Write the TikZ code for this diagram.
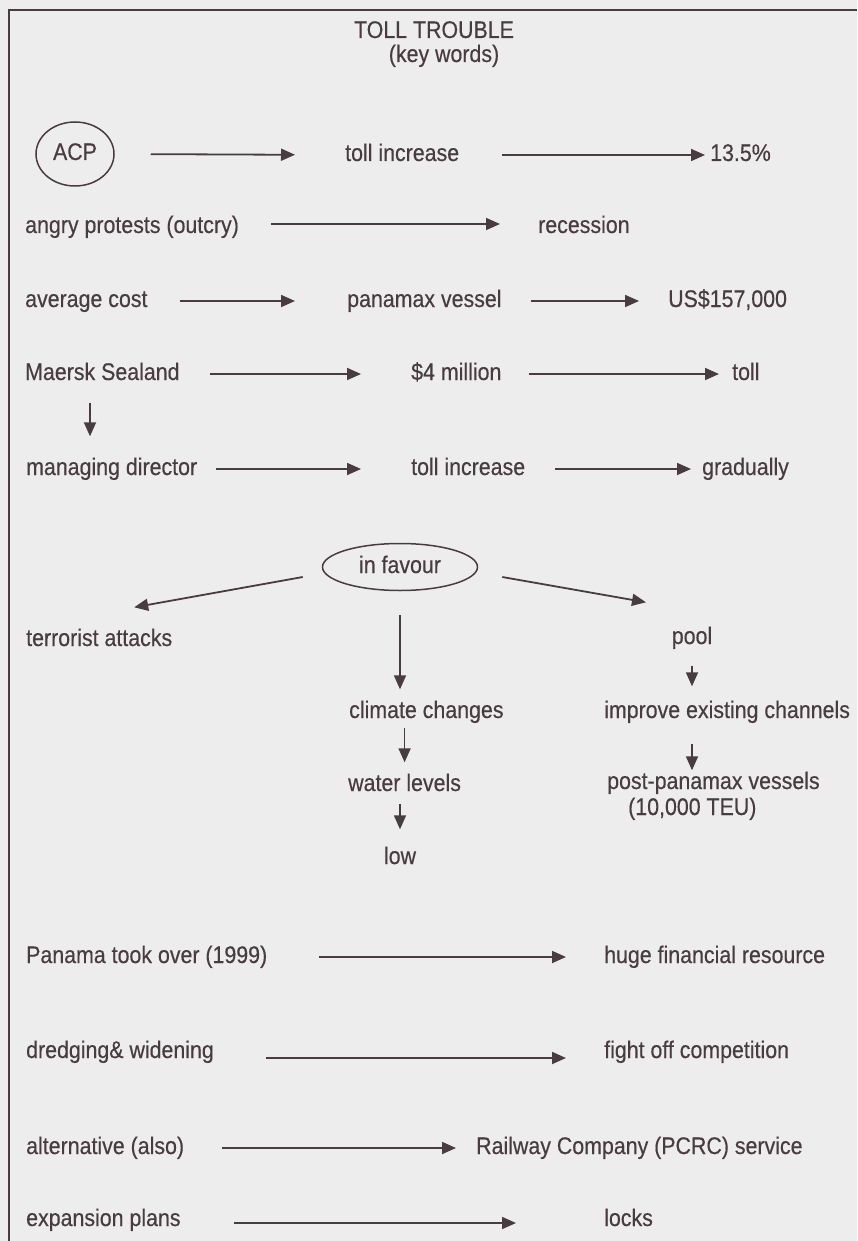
\documentclass[tikz,border=0pt]{standalone}
\usepackage{fontspec}
\setmainfont{Liberation Sans}[FakeStretch=0.89, FakeBold=0.4]
\usetikzlibrary{positioning,arrows.meta,shapes.geometric}
\definecolor{ink}{RGB}{72,60,64}
\definecolor{paper}{RGB}{238,237,237}
\tikzset{
  word/.style  = {text=ink, inner sep=0pt, text height=17.5pt, text depth=5.5pt,
                  font=\fontsize{24}{27}\selectfont},
  lword/.style = {word, anchor=west},
  ring/.style  = {word, draw=ink, ellipse, line width=1.5pt},
  link/.style  = {-{Triangle[length=14pt,width=12pt]}, draw=ink, line width=1.8pt},
  frame/.style = {draw=ink, line width=1.6pt}
}
\begin{document}
\begin{tikzpicture}[x=1pt, y=-1pt]
  \fill[paper] (0,0) rectangle (857,1241);
  \useasboundingbox (0,0) rectangle (857,1241);
  \draw[frame] (9,1241) -- (9,10) -- (857,10);

  % heading
  \node[word] (head) at (434,32) {TOLL TROUBLE};
  \node[word] (keys) at (444,56) {(key words)};

  % upper rows
  \node[ring, minimum width=78pt, minimum height=64pt] (acp) at (75,154) {ACP};
  \node[lword] (inc1)   at (345,155) {toll increase};
  \node[lword] (pct)    at (710,155) {13.5\%};
  \node[lword] (angry)  at (25,227)  {angry protests (outcry)};
  \node[lword] (rec)    at (538,227) {recession};
  \node[lword] (avg)    at (25,301)  {average cost};
  \node[lword] (pmx)    at (347,301) {panamax vessel};
  \node[lword] (usd)    at (668,301) {US\$157,000};
  \node[lword] (maersk) at (25,374)  {Maersk Sealand};
  \node[lword] (four)   at (411,374) {\$4 million};
  \node[lword] (tollw)  at (732,374) {toll};
  \node[lword] (md)     at (26,469)  {managing director};
  \node[lword] (inc2)   at (411,469) {toll increase};
  \node[lword] (grad)   at (702,469) {gradually};

  \draw[link, shorten <=36pt, shorten >=50pt] (acp.east) -- (inc1.west);
  \draw[link, shorten <=43pt, shorten >=5pt]  (inc1.east) -- (pct.west);
  \draw[link, shorten <=32pt, shorten >=38pt] ([yshift=3pt]angry.east) -- ([yshift=3pt]rec.west);
  \draw[link, shorten <=32pt, shorten >=52pt] (avg.east) -- (pmx.west);
  \draw[link, shorten <=29pt, shorten >=29pt] (pmx.east) -- (usd.west);
  \draw[link, shorten <=30pt, shorten >=50pt] (maersk.east) -- (four.west);
  \draw[link, shorten <=27pt, shorten >=13pt] (four.east) -- (tollw.west);
  \draw[link, shorten <=17pt, shorten >=21pt] ([xshift=65pt]maersk.south west) -- ([xshift=64pt]md.north west);
  \draw[link, shorten <=19pt, shorten >=50pt] (md.east) -- (inc2.west);
  \draw[link, shorten <=30pt, shorten >=11pt] (inc2.east) -- (grad.west);

  % in favour tree
  \node[ring, minimum width=155pt, minimum height=47pt] (fav) at (400,567) {in favour};
  \node[lword] (terr)  at (26,640)  {terrorist attacks};
  \node[word]  (pool)  at (692,638) {pool};
  \node[lword] (clim)  at (349,712) {climate changes};
  \node[lword] (impr)  at (604,712) {improve existing channels};
  \node[lword] (water) at (348,785) {water levels};
  \node[lword] (post)  at (607,783) {post-panamax vessels};
  \node[lword] (teu)   at (628,809) {(10,000 TEU)};
  \node[word]  (low)   at (400,858) {low};

  \draw[link] ([xshift=-19pt,yshift=-10pt]fav.west) -- ([xshift=35pt,yshift=21pt]terr.north);
  \draw[link] ([xshift=24pt,yshift=-10pt]fav.east) -- ([xshift=-46pt,yshift=24pt]pool.north);
  \draw[link, shorten <=24pt, shorten >=11pt] (fav.south) -- (fav.south |- clim.north);
  \draw[link, shorten <=4pt, shorten >=11pt]  (water.north |- clim.south) -- (water.north);
  \draw[link, shorten <=7pt, shorten >=17pt]  (low.north |- water.south) -- (low.north);
  \draw[link, shorten <=16pt, shorten >=14pt] (pool.south) -- (pool.south |- impr.north);
  \draw[link, shorten <=20pt, shorten >=1pt]  (pool.south |- impr.south) -- (pool.south |- post.north);

  % lower rows
  \node[lword] (pan)    at (26,957)   {Panama took over (1999)};
  \node[lword] (huge)   at (604,957)  {huge financial resource};
  \node[lword] (dredge) at (26,1052)  {dredging\& widening};
  \node[lword] (fight)  at (604,1052) {fight off competition};
  \node[lword] (alt)    at (26,1148)  {alternative (also)};
  \node[lword] (rail)   at (476,1148) {Railway Company (PCRC) service};
  \node[lword] (exp)    at (26,1220)  {expansion plans};
  \node[lword] (locks)  at (604,1220) {locks};

  \draw[link, shorten <=52pt, shorten >=38pt] (pan.east) -- (huge.west);
  \draw[link, shorten <=52pt, shorten >=38pt] ([yshift=-6pt]dredge.east) -- ([yshift=-6pt]fight.west);
  \draw[link, shorten <=38pt, shorten >=20pt] (alt.east) -- (rail.west);
  \draw[link, shorten <=53pt, shorten >=88pt] ([yshift=-3pt]exp.east) -- ([yshift=-3pt]locks.west);
\end{tikzpicture}
\end{document}
